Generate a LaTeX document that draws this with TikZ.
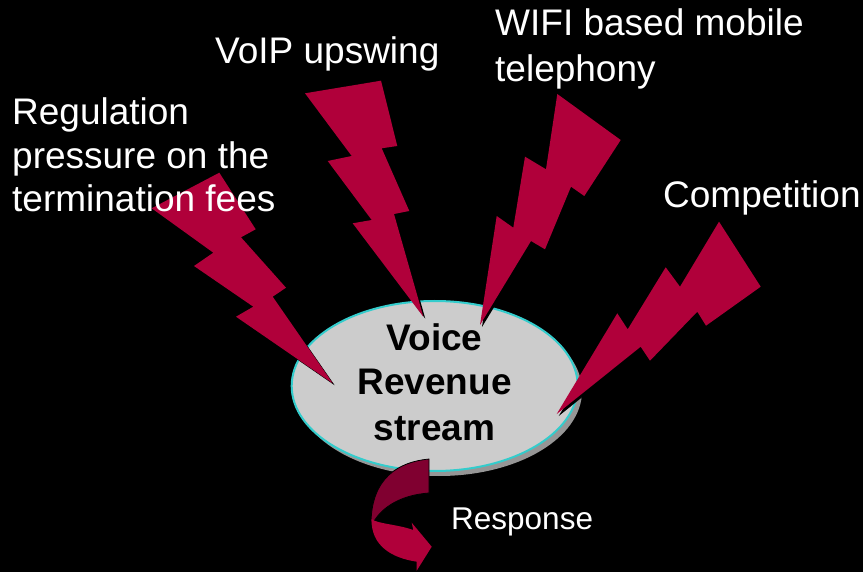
\documentclass[tikz,border=0pt]{standalone}
\usepackage{fontspec}
\usetikzlibrary{shapes.geometric}
\setmainfont{Liberation Sans}
\definecolor{bolt}{RGB}{176,0,58}
\definecolor{boltdark}{RGB}{128,0,48}
\definecolor{discgray}{RGB}{204,204,204}
\definecolor{discshadow}{RGB}{150,150,150}
\definecolor{disccyan}{RGB}{51,204,204}
\tikzset{
  boltshape/.style={fill=bolt},
  boltshadow/.style={fill=black},
  discbase/.style={ellipse, inner sep=0pt, minimum width=286pt, minimum height=170pt},
  label/.style={text=white, anchor=base west, inner sep=0pt, font=\fontsize{37}{43}\selectfont},
  centertext/.style={text=black, anchor=base, inner sep=0pt, font=\fontsize{37}{44}\selectfont\bfseries},
}
\begin{document}
\begin{tikzpicture}[x=1pt,y=-1pt]
\fill[black] (0,0) rectangle (863,572);
\useasboundingbox (0,0) rectangle (863,572);
% disc
\node[discbase, fill=discshadow] (discsh) at (439,391) {};
\node[discbase, fill=discgray, draw=disccyan, line width=2pt] (disc) at (434.7,386) {};
% response arrow
\draw[fill=boltdark, draw=black, line width=0.8pt]
  (429,459) .. controls (398,462) and (372,478) .. (371,522)
  -- (373.5,522) .. controls (383,506) and (402,495) .. (429,493) -- cycle;
\fill[bolt]
  (371.5,519) .. controls (378,524) and (396,524) .. (413.3,530)
  -- (411.7,522.7) -- (431.7,546.7) -- (416.7,570.7) -- (416.7,561.7)
  .. controls (392,558) and (371,546) .. (371.5,519) -- cycle;
% bolt shadows
\begin{scope}[shift={(2,2)}]
\fill[boltshadow] (151.7,208.3) -- (219.3,172.7) -- (255.7,229.3) -- (241,237.3) -- (286,287.7) -- (272.7,296.7) -- (332.7,383.3) -- (236,316.7) -- (253.3,306.7) -- (194,266) -- (213.3,252.7) -- cycle;
\fill[boltshadow] (305,93.3) -- (381,80.7) -- (397.3,146) -- (381.7,148.3) -- (409.3,211) -- (394,214) -- (423.3,316.7) -- (352.7,223.3) -- (371.7,220) -- (327.7,161) -- (351.7,156) -- cycle;
\fill[boltshadow] (557.3,94) -- (620.7,140) -- (584.3,196) -- (571,186.7) -- (545,249.3) -- (531,241) -- (480,325) -- (496.7,216) -- (513.3,227.7) -- (525,156.7) -- (546,169.3) -- cycle;
\fill[boltshadow] (719,221.7) -- (760.7,286.7) -- (706,325.7) -- (697.3,311.7) -- (650,360.7) -- (640.7,346.7) -- (556.7,414) -- (617.3,313.3) -- (627.7,329.3) -- (665.7,267.3) -- (680,286.7) -- cycle;
\end{scope}
% bolts
\fill[boltshape] (151.7,208.3) -- (219.3,172.7) -- (255.7,229.3) -- (241,237.3) -- (286,287.7) -- (272.7,296.7) -- (332.7,383.3) -- (236,316.7) -- (253.3,306.7) -- (194,266) -- (213.3,252.7) -- cycle;
\fill[boltshape] (305,93.3) -- (381,80.7) -- (397.3,146) -- (381.7,148.3) -- (409.3,211) -- (394,214) -- (423.3,316.7) -- (352.7,223.3) -- (371.7,220) -- (327.7,161) -- (351.7,156) -- cycle;
\fill[boltshape] (557.3,94) -- (620.7,140) -- (584.3,196) -- (571,186.7) -- (545,249.3) -- (531,241) -- (480,325) -- (496.7,216) -- (513.3,227.7) -- (525,156.7) -- (546,169.3) -- cycle;
\fill[boltshape] (719,221.7) -- (760.7,286.7) -- (706,325.7) -- (697.3,311.7) -- (650,360.7) -- (640.7,346.7) -- (556.7,414) -- (617.3,313.3) -- (627.7,329.3) -- (665.7,267.3) -- (680,286.7) -- cycle;
% centre text
\node[centertext] (t1) at (434.5,350.7) {Voice};
\node[centertext] (t2) at (434.5,395) {Revenue};
\node[centertext] (t3) at (434.5,440) {stream};
% labels
\node[label] (reg1) at (12,125) {Regulation};
\node[label] (reg2) at (12,168.5) {pressure on the};
\node[label] (reg3) at (12,212) {termination fees};
\node[label] (voip) at (215,63.3) {VoIP upswing};
\node[label] (wifi1) at (495,36) {WIFI based mobile};
\node[label] (wifi2) at (495,81.7) {telephony};
\node[label] (comp) at (663,207.3) {Competition};
\node[label, font=\fontsize{31.5}{36}\selectfont] (resp) at (451,529.3) {Response};
\end{tikzpicture}
\end{document}
